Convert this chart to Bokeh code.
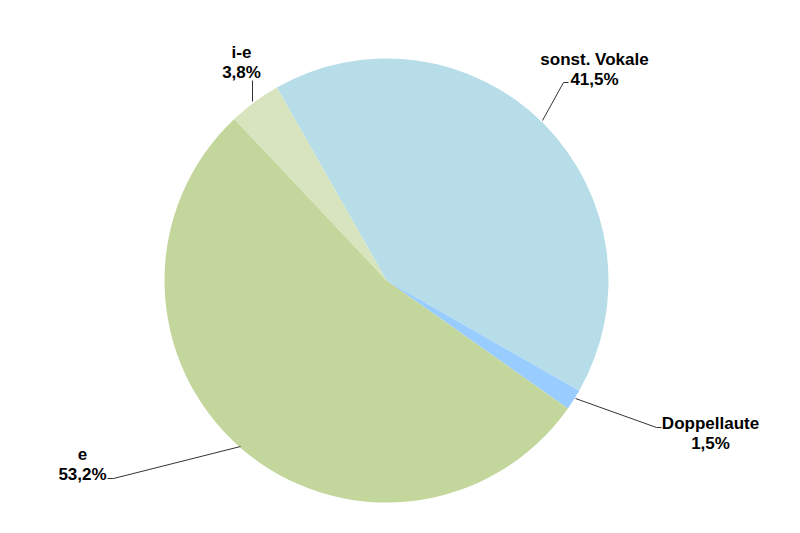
import math
from bokeh.plotting import figure
from bokeh.models import Range1d, ColumnDataSource
from bokeh.core.properties import value
from bokeh.embed import file_html
from bokeh.resources import INLINE

# ---- data ----
categories = ["sonst. Vokale", "Doppellaute", "e", "i-e"]
shares = [41.5, 1.5, 53.2, 3.8]
colors = ["#B7DEE8", "#99CCFF", "#C3D69B", "#D7E4BD"]

# ---- layout (screen pixel coordinates in the 800x533 window) ----
W, H = 784, 517
CX, CY, R = 386, 280, 222
START_DEG = 119.6  # math angle of first slice start

# label anchors (screen coords): x centre, name line centre, percent line centre
label_pos = {
    "sonst. Vokale": (594, 59, 79),
    "Doppellaute": (710, 423, 443),
    "e": (82, 453, 474),
    "i-e": (241, 52, 72),
}
leaders = {
    "sonst. Vokale": [(542, 120), (563, 82), (568, 82)],
    "Doppellaute": [(575, 398), (656, 427), (661, 427)],
    "e": [(240, 446), (113, 478), (107, 478)],
    "i-e": [(252, 101), (252, 80)],
}

def sy(y):
    return H - y

p = figure(width=W, height=H, output_backend="svg", toolbar_location=None,
           x_range=Range1d(0, W), y_range=Range1d(0, H),
           min_border=0, outline_line_color=None)
p.axis.visible = False
p.grid.visible = False

total = sum(shares)
starts, ends = [], []
acc = 0.0
for s in shares:
    a0 = math.radians(START_DEG - acc / total * 360)
    acc += s
    a1 = math.radians(START_DEG - acc / total * 360)
    starts.append(a0)
    ends.append(a1)

src = ColumnDataSource(dict(start=starts, end=ends, color=colors, cat=categories))
p.wedge(x=CX, y=sy(CY), radius=R, start_angle="start", end_angle="end",
        direction="clock", fill_color="color", line_color=None, source=src)

xs, ys = [], []
for c in categories:
    pts = leaders[c]
    xs.append([q[0] for q in pts])
    ys.append([sy(q[1]) for q in pts])
p.multi_line(xs=xs, ys=ys, line_color="#333333", line_width=1)

tx, ty, tt = [], [], []
for c, s in zip(categories, shares):
    x, y1, y2 = label_pos[c]
    tx += [x, x]
    ty += [sy(y1), sy(y2)]
    tt += [c, f"{s:.1f}".replace(".", ",") + "%"]
p.text(x=tx, y=ty, text=tt, text_align="center", text_baseline="middle",
       text_font=value("Liberation Sans"), text_font_style="bold",
       text_font_size="17px", text_color="#000000")

open("out.html", "w").write(file_html(p, INLINE))
